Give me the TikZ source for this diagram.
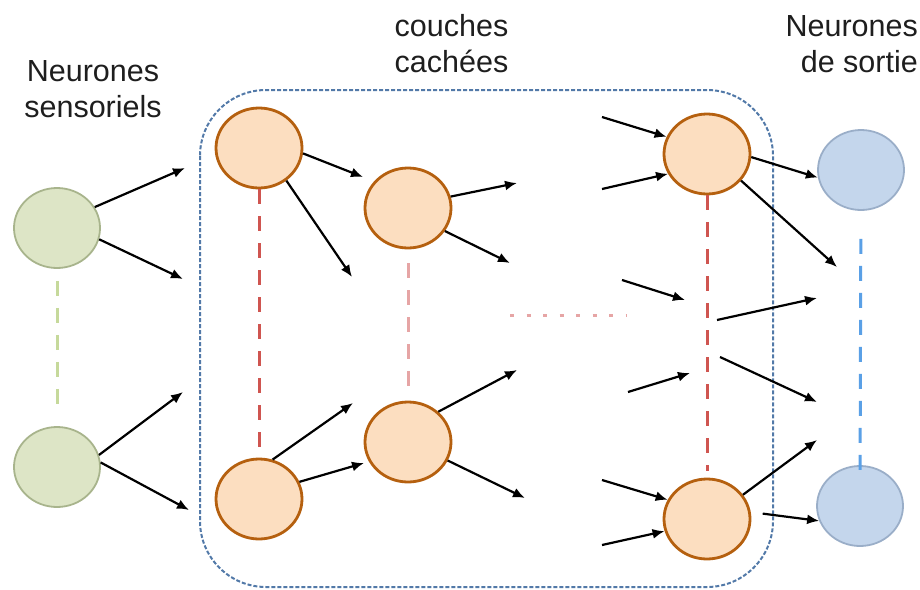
\documentclass[tikz,border=0pt]{standalone}
\usepackage{fontspec}
\setmainfont{Liberation Sans}
\usetikzlibrary{arrows.meta,shapes.geometric}

\definecolor{inFill}{HTML}{DDE5C6}
\definecolor{inLine}{HTML}{A8B48C}
\definecolor{hidFill}{HTML}{FCDEC0}
\definecolor{hidLine}{HTML}{B5600F}
\definecolor{outFill}{HTML}{C4D6EC}
\definecolor{outLine}{HTML}{9AAEC8}
\definecolor{greenDash}{HTML}{C6D99B}
\definecolor{redDash}{HTML}{CF5550}
\definecolor{pinkDash}{HTML}{E6A5A5}
\definecolor{blueDash}{HTML}{5AA0E6}
\definecolor{boxLine}{HTML}{5279A8}
\definecolor{labelText}{HTML}{1E1E1E}

\tikzset{
  neuron/.style={ellipse, minimum width=86pt, minimum height=80pt, inner sep=0pt},
  inneuron/.style={neuron, fill=inFill, draw=inLine, line width=1.8pt},
  hidneuron/.style={neuron, fill=hidFill, draw=hidLine, line width=2.8pt},
  outneuron/.style={neuron, fill=outFill, draw=outLine, line width=1.8pt},
  layerlink/.style={line width=3pt, dash pattern=on 15pt off 12pt},
  link/.style={line width=2.2pt, black, -{Latex[length=12pt,width=10pt]}},
  label/.style={font=\fontsize{30.5}{36}\selectfont, text=labelText, inner sep=0pt},
  hiddenbox/.style={draw=boxLine, line width=2pt, dash pattern=on 4pt off 2pt, rounded corners=66pt}
}

\begin{document}
\begin{tikzpicture}[x=1pt, y=-1pt]
  \useasboundingbox (0,0) rectangle (920,589);

  % titles (base anchor sits on the last line)
  \node[label, align=center, anchor=base] (tin) at (93,117) {Neurones\\sensoriels};
  \node[label, align=center, anchor=base] (thid) at (451.5,72) {couches\\cachées};
  \node[label, align=right, anchor=base east] (tout) at (918,72) {Neurones\\de sortie};

  % frame around the hidden layers
  \draw[hiddenbox] (200,90) rectangle (773,587);

  % neurons
  \node[inneuron] (g1) at (57,228) {};
  \node[inneuron] (g2) at (57,467) {};
  \node[hidneuron] (o1) at (259,148) {};
  \node[hidneuron] (o2) at (259,499) {};
  \node[hidneuron] (m1) at (408,208) {};
  \node[hidneuron] (m2) at (408,442) {};
  \node[hidneuron] (o3) at (707,154) {};
  \node[hidneuron] (o4) at (707,519) {};
  \node[outneuron] (b1) at (861,170) {};
  \node[outneuron] (b2) at (860,506) {};

  % vertical links inside each layer
  \draw[layerlink, greenDash, shorten <=12pt, shorten >=20pt] (g1) -- (g2);
  \draw[layerlink, redDash, shorten >=8pt] (o1) -- (o2);
  \draw[layerlink, pinkDash, shorten <=14pt, shorten >=11pt] (m1) -- (m2);
  \draw[layerlink, redDash, shorten >=7pt] (o3) -- (o4);
  \draw[layerlink, blueDash, shorten <=28pt, shorten >=-10pt] (b1) -- (b2);

  % dotted gap between the hidden layers
  \coordinate (d1) at (510,315);
  \coordinate (d2) at (626,315);
  \draw[pinkDash, line width=3pt, dash pattern=on 4pt off 12.5pt] (d1) -- (d2);

  % free arrow ends
  \coordinate (ea) at (185,168);
  \coordinate (eb) at (183,279);
  \coordinate (ec) at (183,392);
  \coordinate (ed) at (189,510);
  \coordinate (ee) at (363,177);
  \coordinate (ef) at (352,277);
  \coordinate (eg) at (353,403);
  \coordinate (eh) at (364,463);
  \coordinate (ei) at (517,183);
  \coordinate (ej) at (510,263);
  \coordinate (ek) at (517,370);
  \coordinate (el) at (525,498);
  \coordinate (en) at (837,267);
  \coordinate (eo) at (817,440);
  \coordinate (sq) at (602,117);
  \coordinate (sr) at (602,189);
  \coordinate (ss) at (602,480);
  \coordinate (st) at (602,545);
  \coordinate (su) at (622,280);
  \coordinate (eu) at (685,300);
  \coordinate (sv) at (628,392);
  \coordinate (ev) at (690,373);
  \coordinate (sw) at (717,320);
  \coordinate (ew) at (817,298);
  \coordinate (sx) at (720,357);
  \coordinate (ex) at (817,402);

  % connections
  \draw[link] (g1.29) -- (ea);
  \draw[link] (g1.-15) -- (eb);
  \draw[link] (g2.16) -- (ec);
  \draw[link] (g2.6) -- (ed);
  \draw[link] (o1.-7) -- (ee);
  \draw[link] (o1.-50) -- (ef);
  \draw[link] (o2.71) -- (eg);
  \draw[link] (o2.23) -- (eh);
  \draw[link] (m1.15) -- (ei);
  \draw[link] (m1.-32) -- (ej);
  \draw[link] (m2.45) -- (ek);
  \draw[link] (m2.-25) -- (el);
  \draw[link] (sq) -- (o3.157);
  \draw[link] (sr) -- (o3.207);
  \draw[link] (su) -- (eu);
  \draw[link] (sv) -- (ev);
  \draw[link] (ss) -- (o4.154);
  \draw[link] (st) -- (o4.196);
  \draw[link] (o3.-4) -- (b1.190);
  \draw[link] (o3.-38) -- (en);
  \draw[link] (sw) -- (ew);
  \draw[link] (sx) -- (ex);
  \draw[link] (o4.34) -- (eo);
  \draw[link, shorten <=12pt] (o4.9) -- (b2.200);
\end{tikzpicture}
\end{document}
